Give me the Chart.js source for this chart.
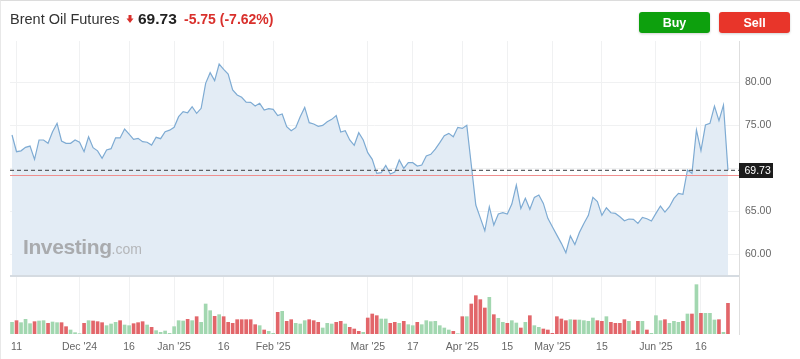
<!DOCTYPE html>
<html><head><meta charset="utf-8">
<script src="https://cdn.jsdelivr.net/npm/chart.js@4.4.1/dist/chart.umd.min.js"></script>
<style>
html,body{margin:0;padding:0;background:#fff;}
body{width:800px;height:359px;position:relative;overflow:hidden;font-family:"Liberation Sans",Arial,sans-serif;}
#wrap{position:absolute;left:0;top:0;width:800px;height:359px;}
#frame{position:absolute;left:0;top:0;width:800px;height:359px;box-sizing:border-box;border-top:1px solid #dcdcdc;border-left:1px solid #e8e8e8;pointer-events:none;}
#over{position:absolute;left:0;top:0;pointer-events:none;}
</style>
</head><body>
<div id="wrap"><canvas id="c"></canvas></div>
<svg id="over" width="800" height="359" xmlns="http://www.w3.org/2000/svg">
  <defs>
    <filter id="sh" x="-20%" y="-30%" width="140%" height="170%">
      <feDropShadow dx="0" dy="1" stdDeviation="1.2" flood-color="#000" flood-opacity="0.18"/>
    </filter>
  </defs>
  <text x="10" y="24" font-family="Liberation Sans, Arial, sans-serif" font-size="14.5" fill="#333">Brent Oil Futures</text>
  <polygon points="128.5,15 131.5,15 131.5,18.5 133.5,18.5 130,23 126.5,18.5 128.5,18.5" fill="#d9302c"/>
  <text x="138" y="24" font-family="Liberation Sans, Arial, sans-serif" font-size="15.5" font-weight="bold" fill="#222">69.73</text>
  <text x="184" y="24" font-family="Liberation Sans, Arial, sans-serif" font-size="14" font-weight="bold" fill="#d9302c">-5.75 (-7.62%)</text>
  <rect x="639" y="12" width="71" height="21" rx="3" fill="#10a010" filter="url(#sh)"/>
  <text x="674.5" y="26.5" text-anchor="middle" font-family="Liberation Sans, Arial, sans-serif" font-size="12.5" font-weight="bold" fill="#fff">Buy</text>
  <rect x="719" y="12" width="71" height="21" rx="3" fill="#e8362b" filter="url(#sh)"/>
  <text x="754.5" y="26.5" text-anchor="middle" font-family="Liberation Sans, Arial, sans-serif" font-size="12.5" font-weight="bold" fill="#fff">Sell</text>
  <text x="23" y="254" font-family="Liberation Sans, Arial, sans-serif" font-size="21" font-weight="bold" fill="#a9abae" letter-spacing="-0.4">Investing<tspan font-size="14" font-weight="normal" fill="#b4b6b9" letter-spacing="0">.com</tspan></text>
</svg>
<div id="frame"></div>
<script>
// ---- data ----
const prices = [
73.84,71.9,72.0,72.4,72.55,71.0,73.26,73.26,72.87,74.22,
75.19,73.14,72.87,72.87,73.26,73.0,71.9,73.64,72.36,72.0,
71.13,72.1,72.25,73.52,73.5,74.53,73.95,73.33,73.45,73.06,
73.0,72.67,73.57,73.41,74.22,74.4,74.73,75.97,76.55,76.43,
77.13,76.36,76.94,79.85,81.09,80.16,82.09,81.47,80.93,79.07,
78.49,78.22,77.67,77.63,77.21,77.52,76.74,76.9,76.82,76.09,
76.28,74.81,74.34,74.69,75.97,77.05,75.27,75.12,74.84,74.96,
75.39,75.66,76.09,74.19,74.34,73.26,72.64,74.11,73.26,71.79,
71.01,69.38,69.46,70.31,69.3,69.54,70.93,69.96,70.62,70.62,
70.23,70.35,71.4,71.59,72.2,72.95,73.76,74.03,73.64,74.73,
74.61,74.96,70.35,65.7,64.2,62.7,65.5,63.37,64.65,64.8,
64.65,65.81,68.02,65.3,66.47,65.2,66.59,66.86,65.89,64.15,
63.18,62.2,61.24,60.15,62.1,61.1,62.5,63.56,64.5,66.59,
66.1,64.5,65.38,64.8,64.72,64.34,63.87,64.07,64.03,63.56,
64.26,64.1,63.84,64.72,65.58,64.88,65.5,66.47,67.05,66.94,
69.77,69.38,74.42,72.02,75.0,75.2,77.2,75.5,77.32,69.73];

const volumes = [
35,40,34,44,31,37,39,40,32,36,
34,34,22,12,4,1,32,40,39,37,
34,25,30,35,40,27,25,31,34,37,
27,20,10,5,9,2,22,40,39,44,
40,52,35,90,70,53,58,52,35,32,
43,43,43,43,28,25,12,8,2,65,
68,38,43,32,30,40,43,40,35,18,
32,30,35,38,30,20,15,8,5,48,
60,55,45,45,32,35,32,38,28,25,
35,28,40,37,38,25,18,12,8,1,
52,52,90,115,103,78,110,58,47,35,
32,40,33,18,35,55,25,20,15,12,
2,52,45,40,43,42,42,40,38,48,
40,38,52,35,32,32,43,38,10,38,
38,12,2,55,40,43,32,38,35,38,
60,60,148,62,62,62,42,43,5,92];

const volumeUp = [
1,0,1,1,1,0,1,1,0,1,
1,0,0,1,1,1,0,1,0,0,
0,1,1,1,0,1,1,0,0,0,
1,0,1,1,1,1,1,1,1,0,
1,0,1,1,1,0,1,0,0,0,
0,0,0,0,0,1,0,1,1,0,
1,0,0,1,1,1,0,0,0,1,
1,1,0,0,1,0,0,0,1,0,
0,0,1,1,0,0,1,0,1,1,
0,1,1,1,1,1,1,1,0,1,
0,1,0,0,0,0,1,0,1,1,
0,1,1,0,1,0,1,1,0,0,
0,0,0,0,1,0,1,1,1,1,
0,0,1,0,0,0,0,1,0,0,
1,0,1,1,1,0,1,1,1,0,
1,0,1,0,1,1,1,0,1,0];

const tickIdx = [1,15,26,36,47,58,79,89,100,110,120,131,143,153];
const tickLabels = ['11',"Dec '24",'16',"Jan '25",'16',"Feb '25","Mar '25",'17',"Apr '25",'15',"May '25",'15',"Jun '25",'16'];
const yTicks = [60,65,70,75,80];
const lastPrice = 69.73;
const refPrice = 69.15;

// ---- layout constants ----
const PRICE_MIN = 50.70, PRICE_MAX = 84.77, PRICE_FLOOR = 57.56;
const VOL_MAX = 879;

const FONT = 'Liberation Sans, Arial, sans-serif';
Chart.defaults.font.family = FONT;

const overlay = {
  id: 'overlay',
  afterDatasetsDraw(chart) {
    const {ctx, chartArea: a, scales} = chart;
    const y = scales.y;
    ctx.save();
    const ps = Math.round(y.getPixelForValue(PRICE_FLOOR)) + 1;
    ctx.strokeStyle = '#d5dbe1'; ctx.lineWidth = 2;
    ctx.beginPath(); ctx.moveTo(a.left, ps); ctx.lineTo(a.right, ps); ctx.stroke();
    const pr = Math.round(y.getPixelForValue(refPrice)) + 0.5;
    ctx.strokeStyle = '#ef8f8f'; ctx.lineWidth = 1;
    ctx.beginPath(); ctx.moveTo(a.left, pr); ctx.lineTo(a.right, pr); ctx.stroke();
    const pl = y.getPixelForValue(lastPrice);
    ctx.strokeStyle = '#5e6266'; ctx.lineWidth = 1.3; ctx.setLineDash([4, 3]);
    ctx.beginPath(); ctx.moveTo(a.left, pl); ctx.lineTo(a.right, pl); ctx.stroke();
    ctx.setLineDash([]);
    ctx.restore();
  },
  afterDraw(chart) {
    const {ctx, chartArea: a, scales} = chart;
    const pl = scales.y.getPixelForValue(lastPrice);
    ctx.save();
    ctx.fillStyle = '#1c1c1c';
    ctx.fillRect(a.right, Math.round(pl - 7.5), 34, 15);
    ctx.fillStyle = '#fff';
    ctx.font = '10.5px ' + FONT;
    ctx.textBaseline = 'middle'; ctx.textAlign = 'left';
    ctx.fillText(lastPrice.toFixed(2), a.right + 5.5, pl + 0.5);
    ctx.restore();
  }
};

new Chart(document.getElementById('c'), {
  type: 'line',
  data: {
    datasets: [
      {
        type: 'line',
        data: prices.map((v, i) => ({x: i, y: v})),
        yAxisID: 'y',
        borderColor: '#7eabd3',
        borderWidth: 1.2,
        backgroundColor: '#e3ecf5',
        fill: {value: PRICE_FLOOR},
        pointRadius: 0,
        tension: 0,
        order: 1
      },
      {
        type: 'bar',
        data: volumes.map((v, i) => ({x: i, y: v})),
        yAxisID: 'yv',
        backgroundColor: volumeUp.map(u => u ? '#a2d7b0' : '#e2666a'),
        barThickness: 3,
        order: 2
      }
    ]
  },
  options: {
    responsive: true,
    maintainAspectRatio: false,
    animation: false,
    layout: {padding: {left: 10, top: 41, right: 0, bottom: 0}},
    plugins: {legend: {display: false}, tooltip: {enabled: false}},
    scales: {
      x: {
        type: 'linear',
        min: -0.45, max: 161.45,
        offset: false,
        afterBuildTicks: s => { s.ticks = tickIdx.map(v => ({value: v})); },
        afterFit: s => { s.height = 25; },
        grid: {color: '#f0f1f2', drawTicks: false, offset: false},
        border: {display: false},
        ticks: {
          autoSkip: false, maxRotation: 0, padding: 7,
          color: '#666', font: {size: 10.5},
          callback: (v, i) => tickLabels[i]
        }
      },
      y: {
        position: 'right',
        min: PRICE_MIN, max: PRICE_MAX,
        afterBuildTicks: s => { s.ticks = yTicks.map(v => ({value: v})); },
        afterFit: s => { s.width = 61; },
        grid: {color: '#f0f1f2', drawTicks: false},
        border: {display: true, color: '#dedede', width: 1},
        ticks: {
          padding: 6, color: '#666', font: {size: 10.5},
          callback: v => v.toFixed(2)
        }
      },
      yv: {
        display: false,
        min: 0, max: VOL_MAX
      }
    }
  },
  plugins: [overlay]
});
</script>
</body></html>
